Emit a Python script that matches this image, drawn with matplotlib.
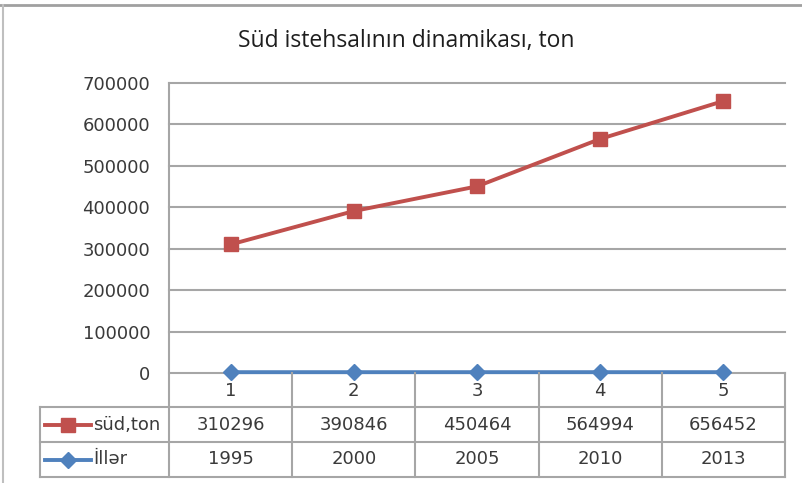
import matplotlib
matplotlib.use("Agg")
import matplotlib.pyplot as plt
from matplotlib.lines import Line2D

title = "Süd istehsalının dinamikası, ton"
categories = ["1", "2", "3", "4", "5"]
sud_ton = [310296, 390846, 450464, 564994, 656452]
iller = [1995, 2000, 2005, 2010, 2013]
series_names = ["süd,ton", "İllər"]
yticks = [0, 100000, 200000, 300000, 400000, 500000, 600000, 700000]

W, H = 802, 483
fig = plt.figure(figsize=(W / 100, H / 100), dpi=100)

def px(x, y):
    return x / W, 1 - y / H

# plot area in pixels
L, R, T, B = 169, 785, 83, 373
ax = fig.add_axes([L / W, 1 - B / H, (R - L) / W, (B - T) / H])
ax.set_xlim(-0.5, len(categories) - 0.5)
ax.set_ylim(0, 700000)
for s in ax.spines.values():
    s.set_visible(False)
grid_c = "#A6A6A6"
text_c = "#3A3A3A"
for v in yticks:
    ax.axhline(v, color=grid_c, lw=1.5, zorder=1, clip_on=False)
ax.set_yticks(yticks)
ax.set_yticklabels([str(v) for v in yticks], fontsize=13, color=text_c, family="DejaVu Sans")
ax.tick_params(axis="y", length=0, pad=13.5)
ax.set_xticks([])

red = "#C0504D"
blue = "#4F81BD"
x = list(range(len(categories)))
ax.plot(x, iller, color=blue, lw=2.8, marker="D", ms=8, zorder=3, clip_on=False)
ax.plot(x, sud_ton, color=red, lw=2.8, marker="s", ms=10.5, zorder=4, clip_on=False)

# table drawn in pixel space via figure coords
def hline(x0, x1, y, c=grid_c, lw=1.5):
    a, b = px(x0, y)
    c2, _ = px(x1, y)
    fig.add_artist(Line2D([a, c2], [b, b], color=c, lw=lw, zorder=2))

def vline(xx, y0, y1, c=grid_c, lw=1.5):
    a, b = px(xx, y0)
    _, d = px(xx, y1)
    fig.add_artist(Line2D([a, a], [b, d], color=c, lw=lw, zorder=2))

colw = (R - L) / len(categories)
cols = [L + i * colw for i in range(len(categories) + 1)]
r0, r1, r2, r3 = 373, 407, 442, 477
LL = 40
vline(L, T, r3)
for cx in cols[1:]:
    vline(cx, r0, r3)
vline(LL, r1, r3)
hline(LL, R, r1)
hline(LL, R, r2)
hline(LL, R, r3)

fs = 13
for i, cat in enumerate(categories):
    cx = (cols[i] + cols[i + 1]) / 2
    fig.text(*px(cx, (r0 + r1) / 2 + 1), cat, ha="center", va="center", fontsize=fs, color=text_c)
    fig.text(*px(cx, (r1 + r2) / 2), str(sud_ton[i]), ha="center", va="center", fontsize=fs, color=text_c)
    fig.text(*px(cx, (r2 + r3) / 2), str(iller[i]), ha="center", va="center", fontsize=fs, color=text_c)

# legend keys
for (row_y, col, mk, ms, name) in [((r1 + r2) / 2, red, "s", 10.5, series_names[0]),
                                   ((r2 + r3) / 2, blue, "D", 8, series_names[1])]:
    a, b = px(45, row_y)
    c2, _ = px(91, row_y)
    fig.add_artist(Line2D([a, c2], [b, b], color=col, lw=2.8, zorder=3))
    m, _ = px(68, row_y)
    fig.add_artist(Line2D([m], [b], color=col, marker=mk, ms=ms, lw=0, zorder=4))
    fig.text(*px(93, row_y), name, ha="left", va="center", fontsize=fs, color=text_c)

fig.text(*px(406, 41), title, ha="center", va="center", fontsize=16.5, color="#1E1E1E", family="Open Sans")

# outer border (top and left visible)
hline(0, W, 5, c="#A0A0A0", lw=2)
vline(3, 5, H, c="#BFBFBF", lw=1.5)

fig.savefig("out.png", dpi=100)
